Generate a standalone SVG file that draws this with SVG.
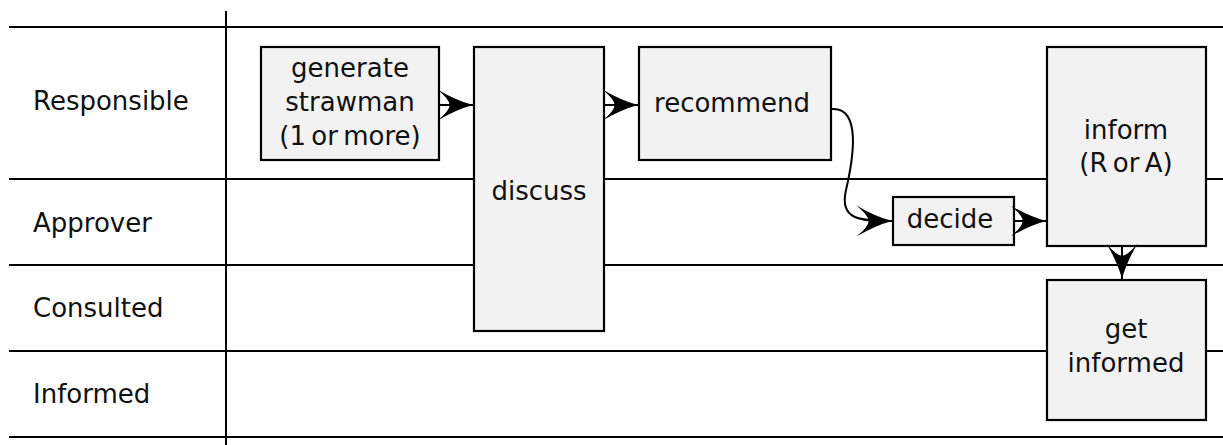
<svg xmlns="http://www.w3.org/2000/svg" width="1223" height="445" viewBox="0 0 1223 445">
<style>
.lane{stroke:#000;stroke-width:2;fill:none}
.box{fill:#f2f2f2;stroke:#000;stroke-width:2.2}
.t{font-family:"DejaVu Sans",Verdana,sans-serif;font-size:26px;fill:#111}
.c{text-anchor:middle}
.conn{stroke:#000;stroke-width:2;fill:none;marker-end:url(#ah)}
</style>
<defs>
<marker id="ah" markerUnits="userSpaceOnUse" markerWidth="40" markerHeight="40" viewBox="-34 -17 36 34" refX="0" refY="0" orient="auto">
<path d="M0,0 Q-15,-4 -32,-14 Q-21,-5 -21,0 Q-21,5 -32,14 Q-15,4 0,0 Z" fill="#000"/>
</marker>
</defs>
<g id="lanes">
<line class="lane" x1="9" y1="27" x2="1223" y2="27"/>
<line class="lane" x1="9" y1="179" x2="1223" y2="179"/>
<line class="lane" x1="9" y1="265" x2="1223" y2="265"/>
<line class="lane" x1="9" y1="351" x2="1223" y2="351"/>
<line class="lane" x1="9" y1="437" x2="1223" y2="437"/>
<line class="lane" x1="226" y1="11" x2="226" y2="445"/>
<text class="t" x="33" y="110">Responsible</text>
<text class="t" x="33" y="232">Approver</text>
<text class="t" x="33" y="317">Consulted</text>
<text class="t" x="33" y="403">Informed</text>
</g>
<g id="strawman">
<rect class="box" x="261" y="47" width="178" height="113"/>
<text class="t c" x="350" y="77">generate</text>
<text class="t c" x="350" y="111">strawman</text>
<text class="t c" x="350" y="145" style="word-spacing:-3px">(1 or more)</text>
</g>
<g id="discuss">
<rect class="box" x="474" y="47" width="130" height="284"/>
<text class="t c" x="539" y="200">discuss</text>
</g>
<g id="recommend">
<rect class="box" x="639" y="47" width="192" height="113"/>
<text class="t c" x="732" y="112">recommend</text>
</g>
<g id="decide">
<rect class="box" x="893" y="197" width="121" height="48"/>
<text class="t c" x="950" y="228">decide</text>
</g>
<g id="inform">
<rect class="box" x="1047" y="47" width="159" height="199"/>
<text class="t c" x="1126" y="139">inform</text>
<text class="t c" x="1126" y="172" style="word-spacing:-3px">(R or A)</text>
</g>
<g id="getinformed">
<rect class="box" x="1047" y="280" width="159" height="140"/>
<text class="t c" x="1126" y="338">get</text>
<text class="t c" x="1126" y="372">informed</text>
</g>
<g id="connectors">
<path class="conn" d="M439,105 L473,105"/>
<path class="conn" d="M604,105 L638,105"/>
<path class="conn" d="M832,109 C862,107 853,160 846,190 C839,220 860,221 892,221"/>
<path class="conn" d="M1014,221 L1046,221"/>
<path class="conn" d="M1122,246 L1122,279"/>
</g>
</svg>
